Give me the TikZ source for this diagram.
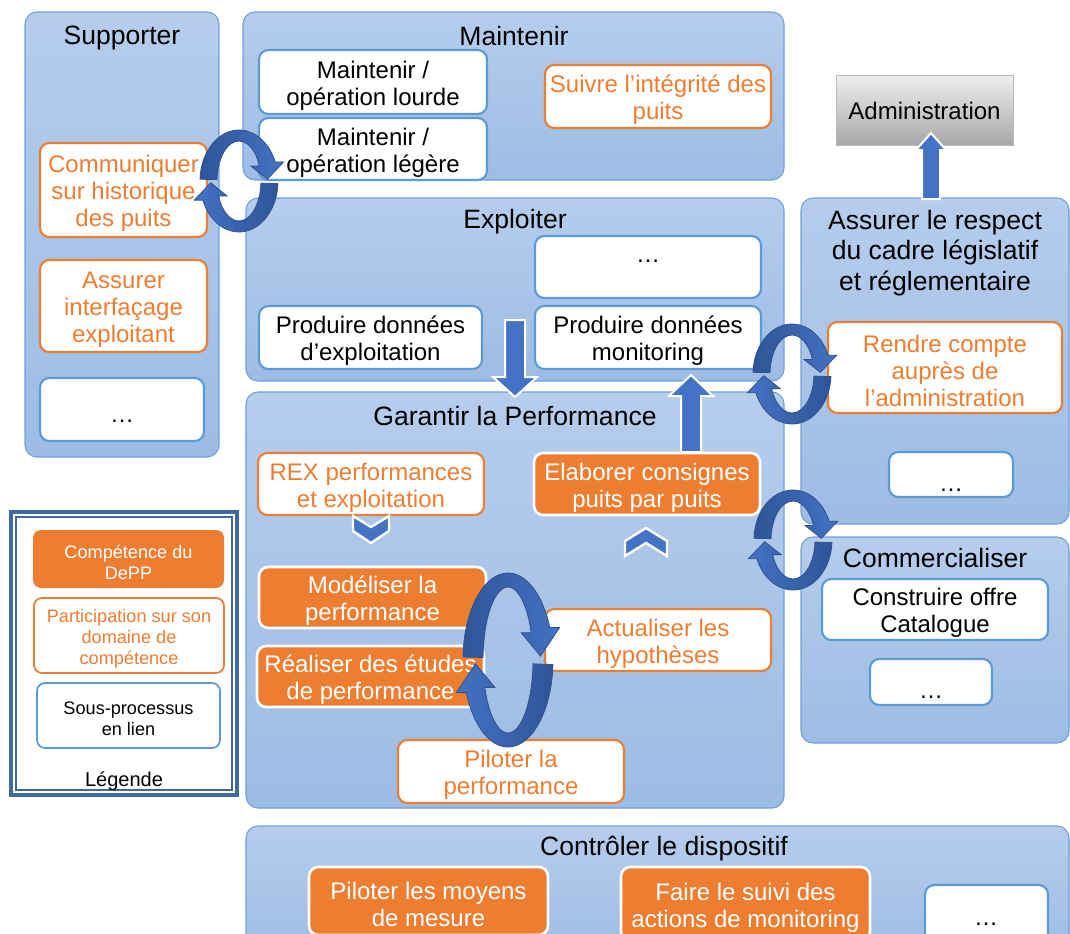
\documentclass[tikz,border=0pt]{standalone}
\usepackage{fontspec}
\setmainfont{Liberation Sans}
\usetikzlibrary{calc}
\definecolor{cTop}{HTML}{B6CDEC}
\definecolor{cBot}{HTML}{9DBCE4}
\definecolor{cEdge}{HTML}{6FA0DC}
\definecolor{wEdge}{HTML}{5B9BD5}
\definecolor{org}{HTML}{ED7D31}
\definecolor{bArr}{HTML}{4472C4}
\definecolor{bDark}{HTML}{2F5597}
\definecolor{bEdge}{HTML}{2F528F}
\definecolor{lgEdge}{HTML}{41699C}
\definecolor{gTop}{HTML}{EEEEEE}
\definecolor{gBot}{HTML}{A8A8A8}
\tikzset{
  container/.style={draw=cEdge, line width=0.8pt, top color=cTop, bottom color=cBot, rounded corners=9pt, inner sep=0pt},
  titletext/.style={font=\fontsize{19.9}{22.9}\selectfont, align=center, text=black, inner sep=0pt},
  boxtext/.style={font=\fontsize{18}{20.3}\selectfont, align=center, inner sep=0pt},
  wtext/.style={boxtext, text=black},
  otext/.style={boxtext, text=org},
  ftext/.style={boxtext, text=white},
  whitebox/.style={draw=wEdge, line width=1.6pt, fill=white, rounded corners=7pt, inner sep=0pt},
  outlinebox/.style={draw=org, line width=1.6pt, fill=white, rounded corners=7pt, inner sep=0pt},
  filledbox/.style={draw=white, line width=2pt, fill=org, rounded corners=7pt, inner sep=0pt},
  legtext/.style={font=\fontsize{13.6}{15.8}\selectfont, align=center, inner sep=0pt},
  lwtext/.style={legtext, text=black},
  lotext/.style={legtext, text=org},
  lftext/.style={legtext, text=white},
  legfilled/.style={fill=org, draw=none, rounded corners=6pt, inner sep=0pt},
  legoutline/.style={fill=white, draw=org, line width=1.3pt, rounded corners=6pt, inner sep=0pt},
  legwhite/.style={fill=white, draw=wEdge, line width=1.3pt, rounded corners=6pt, inner sep=0pt},
  adminbox/.style={top color=gTop, bottom color=gBot, draw=gray!55, line width=0.6pt, inner sep=0pt},
  dots/.style={boxtext, text=black, anchor=base},
  blockarrow/.style={fill=bArr, draw=white, line width=1.5pt},
  chevron/.style={fill=bArr, draw=white, line width=1.8pt},
}
% name, box style, text style, x1, y1, x2, y2, text
\newcommand\bx[8]{\node[#2, minimum width={(#6-#4)*0.75pt}, minimum height={(#7-#5)*0.75pt}] (#1) at ({(#4+#6)/2},{-(#5+#7)/2}) {};
\node[#3] (#1-t) at ([yshift=-2.6pt]#1.center) {#8};}
\newcommand\cont[5]{\node[container, minimum width={(#4-#2)*0.75pt}, minimum height={(#5-#3)*0.75pt}] (#1) at ({(#2+#4)/2},{-(#3+#5)/2}) {};}
\newcommand\ringarrow[6]{%
\begin{scope}[shift={(#1,-#2)}]
\pgfmathsetmacro\rxo{#3}\pgfmathsetmacro\ryo{#4}%
\pgfmathsetmacro\rxi{#3-#5}\pgfmathsetmacro\ryi{#4-#6}%
\pgfmathsetmacro\wa{0.5*#5}\pgfmathsetmacro\tl{0.3*#4}%
\pgfmathsetmacro\ox{\rxo*cos(22)}\pgfmathsetmacro\oy{\ryo*sin(22)}%
\pgfmathsetmacro\ix{\rxi*cos(22)}\pgfmathsetmacro\iy{\ryi*sin(22)}%
\pgfmathsetmacro\sx{\rxo*cos(178)}\pgfmathsetmacro\sy{\ryo*sin(178)}%
\pgfmathsetmacro\bx{\rxo*cos(-3)}\pgfmathsetmacro\by{\ryo*sin(-3)}%
\path[draw=bEdge, line width=0.6pt, left color=bDark, right color=bArr]
 (\sx,\sy) arc[start angle=178, end angle=22, x radius=\rxo, y radius=\ryo]
 -- (\ox+\wa,\oy) -- ({(\ox+\ix)/2},{(\oy+\iy)/2-\tl}) -- (\ix-\wa,\iy) -- (\ix,\iy)
 arc[start angle=22, end angle=178, x radius=\rxi, y radius=\ryi] -- cycle;
\path[draw=bEdge, line width=0.6pt, left color=bArr, right color=bDark]
 (\bx,\by) arc[start angle=-3, end angle=-158, x radius=\rxo, y radius=\ryo]
 -- (-\ox-\wa,-\oy) -- ({-(\ox+\ix)/2},{-(\oy+\iy)/2+\tl}) -- (-\ix+\wa,-\iy) -- (-\ix,-\iy)
 arc[start angle=-158, end angle=-3, x radius=\rxi, y radius=\ryi] -- cycle;
\end{scope}}
\begin{document}
\begin{tikzpicture}[x=0.75pt,y=0.75pt]
\useasboundingbox (0,0) rectangle (1070,-933);
\clip (0,0) rectangle (1070,-933);
\fill[white] (0,0) rectangle (1070,-933);

% containers
\cont{sup}{25}{12}{219}{457}
\cont{mnt}{243}{12}{784}{180}
\cont{exp}{246}{198}{784}{381}
\cont{gar}{246}{392}{784}{808}
\cont{ass}{801}{198}{1069}{524}
\cont{com}{801}{537}{1069}{743}
\cont{ctl}{246}{826}{1069}{960}

% titles
\node[titletext] (tsup) at (122,-37.5) {Supporter};
\node[titletext] (tmnt) at (514,-36.5) {Maintenir};
\node[titletext] (texp) at (515,-221.5) {Exploiter};
\node[titletext] (tgar) at (515,-416.5) {Garantir la Performance};
\node[titletext] (tass) at (935,-253) {Assurer le respect\\du cadre législatif\\et réglementaire};
\node[titletext] (tcom) at (935,-558.5) {Commercialiser};
\node[titletext] (tctl) at (664,-848.5) {Contrôler le dispositif};

% Supporter
\bx{comm}{outlinebox}{otext}{40}{143}{207}{237}{Communiquer\\sur historique\\des puits}
\bx{interf}{outlinebox}{otext}{40}{260}{207}{352}{Assurer\\interfaçage\\exploitant}
\bx{supdots}{whitebox}{wtext}{40}{378}{204}{441}{}
\node[dots] (supdots-d) at (122,-422) {…};

% Maintenir
\bx{lourde}{whitebox}{wtext}{259}{50}{487}{114}{Maintenir /\\opération lourde}
\bx{legere}{whitebox}{wtext}{259}{118}{487}{180}{Maintenir /\\opération légère}
\bx{integ}{outlinebox}{otext}{545}{65}{771}{128}{Suivre l’intégrité des\\puits}

% Exploiter
\bx{expdots}{whitebox}{wtext}{535}{236}{761}{298}{}
\node[dots] (expdots-d) at (648,-262) {…};
\bx{prodexp}{whitebox}{wtext}{259}{306}{482}{369}{Produire données\\d’exploitation}
\bx{prodmon}{whitebox}{wtext}{535}{306}{761}{369}{Produire données\\monitoring}

% Garantir
\bx{rex}{outlinebox}{otext}{258}{453}{484}{515}{REX performances\\et exploitation}
\bx{elab}{filledbox}{ftext}{534}{453}{760}{515}{Elaborer consignes\\puits par puits}
\bx{model}{filledbox}{ftext}{259}{567}{486}{628}{Modéliser la\\performance}
\bx{etudes}{filledbox}{ftext}{257}{646}{484}{707}{Réaliser des études\\de performance}
\bx{actu}{outlinebox}{otext}{545}{609}{771}{671}{Actualiser les\\hypothèses}
\bx{pilote}{outlinebox}{otext}{398}{740}{624}{803}{Piloter la\\performance}

% Assurer
\bx{rendre}{outlinebox}{otext}{828}{322}{1062}{413}{Rendre compte\\auprès de\\l’administration}
\bx{assdots}{whitebox}{wtext}{889}{452}{1013}{497}{}
\node[dots] (assdots-d) at (951,-491) {…};

% Commercialiser
\bx{constr}{whitebox}{wtext}{822}{579}{1048}{640}{Construire offre\\Catalogue}
\bx{comdots}{whitebox}{wtext}{870}{659}{992}{705}{}
\node[dots] (comdots-d) at (931,-698) {…};

% Controler
\bx{pilmes}{filledbox}{ftext}{309}{867}{548}{935}{Piloter les moyens\\de mesure}
\bx{suivi}{filledbox}{ftext}{621}{867}{870}{941}{Faire le suivi des\\actions de monitoring}
\bx{ctldots}{whitebox}{wtext}{925}{885}{1048}{950}{}
\node[dots] (ctldots-d) at (986,-925) {…};

% Administration
\node[adminbox, minimum width={177*0.75pt}, minimum height={70*0.75pt}] (admin) at (924.5,-110) {};
\node[wtext] (admin-t) at ([yshift=-0.6pt]admin.center) {Administration};

% Legend
\draw[lgEdge, line width=2.4pt] (11,-512) rectangle (237,-795);
\draw[lgEdge, line width=0.8pt] (16,-517) rectangle (232,-790);
\bx{lg1}{legfilled}{lftext}{33}{530}{224}{588}{Compétence du\\DePP}
\bx{lg2}{legoutline}{lotext}{34}{598}{224}{673}{Participation sur son\\domaine de\\compétence}
\bx{lg3}{legwhite}{lwtext}{37}{683}{220}{748}{Sous-processus\\en lien}
\node[legtext, font=\fontsize{15}{17}\selectfont] (lgt) at (124,-781) {Légende};

% block arrows
\draw[blockarrow] (505,-320) -- (505,-377) -- (493,-377) -- (515,-397) -- (537,-377) -- (525,-377) -- (525,-320) -- cycle;
\draw[blockarrow] (681,-452) -- (681,-396) -- (669,-396) -- (691,-375) -- (713,-396) -- (701,-396) -- (701,-452) -- cycle;
\draw[blockarrow] (922,-199) -- (922,-150) -- (916,-150) -- (931,-133) -- (946,-150) -- (940,-150) -- (940,-199) -- cycle;

% chevrons
\draw[chevron] (353,-516) -- (371,-527) -- (389,-516) -- (389,-531) -- (371,-543) -- (353,-531) -- cycle;
\draw[chevron] (625,-556) -- (646,-543) -- (667,-556) -- (667,-541) -- (646,-528) -- (625,-541) -- cycle;

% ring arrows
\ringarrow{239}{181}{39}{51}{17}{11}
\ringarrow{792}{374}{39}{50}{17}{11}
\ringarrow{793}{540}{39}{50}{17}{11}
\ringarrow{508}{660}{45}{87}{20}{14}
\end{tikzpicture}
\end{document}
